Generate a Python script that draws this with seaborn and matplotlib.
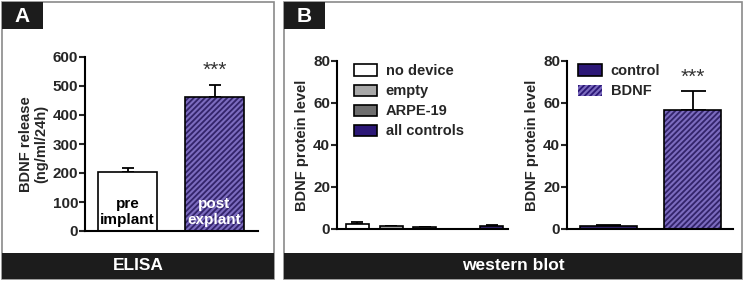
import matplotlib
matplotlib.use("Agg")
import matplotlib.pyplot as plt
from matplotlib.patches import Rectangle, Patch
import seaborn as sns
import pandas as pd

# ELISA panel
elisa_groups = ['pre implant', 'post explant']
elisa_labels = ['pre\nimplant', 'post\nexplant']
elisa_means = [204, 462]
elisa_sem = [12, 43]

# western blot, left
wb_groups = ['no device', 'empty', 'ARPE-19', 'all controls']
wb_order = ['no device', 'empty', 'ARPE-19', '', 'all controls']
wb_means = [2.5, 1.2, 0.8, 1.5]
wb_sem = [0.6, 0.3, 0.3, 0.2]

# western blot, right
bd_groups = ['control', 'BDNF']
bd_means = [1.5, 56.5]
bd_sem = [0.2, 9.0]

PURPLE = '#2c1877'
STRIPE = '#7c6cbf'
wb_colors = {'no device': 'white', 'empty': '#a8a8a8', 'ARPE-19': '#6e6e6e', 'all controls': PURPLE}

sns.set_style('white')
plt.rcParams['font.family'] = ['Liberation Sans', 'DejaVu Sans']
plt.rcParams['font.weight'] = 'bold'
plt.rcParams['hatch.linewidth'] = 1.5

W, H = 744, 281
fig = plt.figure(figsize=(W / 100, H / 100), dpi=100)


def fx(px):
    return px / W


def fy(py):
    return 1 - py / H


def make_ax(x0, x1, y0, y1):
    return fig.add_axes([fx(x0), fy(y1), fx(x1 - x0), (y1 - y0) / H])


def style(ax, ymax, step, ylabel):
    ax.set_ylim(0, ymax)
    ax.set_yticks(range(0, ymax + 1, step))
    for s in ['top', 'right']:
        ax.spines[s].set_visible(False)
    for s in ['left', 'bottom']:
        ax.spines[s].set_linewidth(1.5)
        ax.spines[s].set_color('black')
    ax.tick_params(axis='y', direction='out', length=4, width=1.5, labelsize=11, pad=1, left=True)
    ax.tick_params(axis='x', bottom=False, labelbottom=False)
    ax.set_xlabel('')
    ax.set_ylabel(ylabel, fontsize=10.5, fontweight='bold', labelpad=3, linespacing=1.1)
    for t in ax.get_yticklabels():
        t.set_fontweight('bold')


def hatch_bar(ax, p):
    p.set_hatch('//////')
    p.set_edgecolor(STRIPE)
    p.set_linewidth(0)
    ax.add_patch(Rectangle((p.get_x(), p.get_y()), p.get_width(), p.get_height(),
                           fill=False, ec='black', lw=1.2, zorder=p.get_zorder() + 0.1))


def upper_err(ax, xs, means, sems, cap):
    for x, m, s in zip(xs, means, sems):
        ax.errorbar(x, m, yerr=[[0], [s]], fmt='none', ecolor='black',
                    elinewidth=1.3, capsize=cap, capthick=1.3, zorder=1)


# frames, bottom bands, letter boxes
for (x0, x1, band, letter) in [(2, 274, 'ELISA', 'A'), (284, 742, 'western blot', 'B')]:
    fig.add_artist(Rectangle((fx(x0), fy(279)), fx(x1 - x0), (279 - 2) / H,
                             transform=fig.transFigure, fill=False, ec='#8a8a8a', lw=1.2))
    fig.add_artist(Rectangle((fx(x0), fy(279)), fx(x1 - x0), (279 - 253) / H,
                             transform=fig.transFigure, fc='#1c1c1c', ec='none'))
    fig.text(fx((x0 + x1) / 2), fy(266), band, color='white', fontsize=12.5,
             fontweight='bold', ha='center', va='center')
    fig.add_artist(Rectangle((fx(x0), fy(29)), fx(41), 27 / H,
                             transform=fig.transFigure, fc='#1c1c1c', ec='none'))
    fig.text(fx(x0 + 20), fy(16), letter, color='white', fontsize=15,
             fontweight='bold', ha='center', va='center')

# panel A
axA = make_ax(85, 258, 57, 231)
dfA = pd.DataFrame({'group': elisa_groups, 'value': elisa_means})
sns.barplot(data=dfA, x='group', y='value', hue='group', order=elisa_groups,
            palette={elisa_groups[0]: 'white', elisa_groups[1]: PURPLE},
            edgecolor='black', linewidth=1.2, width=0.68, legend=False, ax=axA, zorder=2)
axA.set_xlim(-0.49, 1.5)
for p in axA.patches:
    if p.get_height() > 300:
        hatch_bar(axA, p)
upper_err(axA, [0, 1], elisa_means, elisa_sem, 4)
style(axA, 600, 100, 'BDNF release\n(ng/ml/24h)')
axA.text(0, 66, elisa_labels[0], ha='center', va='center', fontsize=11,
         fontweight='bold', color='black', linespacing=1.15, zorder=5)
axA.text(1, 66, elisa_labels[1], ha='center', va='center', fontsize=11,
         fontweight='bold', color='white', linespacing=1.15, zorder=5)
axA.text(1, elisa_means[1] + elisa_sem[1] + 15, '***', ha='center', va='bottom',
         fontsize=15, color='#333333', fontweight='normal')

# panel B left
axB = make_ax(337, 508, 61, 229)
dfB = pd.DataFrame({'group': wb_groups, 'value': wb_means})
sns.barplot(data=dfB, x='group', y='value', hue='group', order=wb_order,
            hue_order=wb_groups, palette=wb_colors, edgecolor='black', linewidth=1.2,
            width=0.68, legend=False, ax=axB, zorder=2)
axB.set_xlim(-0.61, 4.48)
upper_err(axB, [wb_order.index(g) for g in wb_groups], wb_means, wb_sem, 4)
style(axB, 80, 20, 'BDNF protein level')
hB = [Patch(fc=wb_colors[g], ec='black', lw=1.2) for g in wb_groups]
axB.legend(hB, wb_groups, loc='upper left', bbox_to_anchor=(0.02, 1.06), frameon=False,
           handlelength=1.6, handleheight=0.8, handletextpad=0.6,
           labelspacing=0.42, prop={'weight': 'bold', 'size': 10.5})

# panel B right
axC = make_ax(567, 733, 61, 229)
dfC = pd.DataFrame({'group': bd_groups, 'value': bd_means})
sns.barplot(data=dfC, x='group', y='value', hue='group', order=bd_groups,
            palette={bd_groups[0]: PURPLE, bd_groups[1]: PURPLE}, edgecolor='black',
            linewidth=1.2, width=0.68, legend=False, ax=axC, zorder=2)
axC.set_xlim(-0.49, 1.48)
for p in axC.patches:
    if p.get_height() > 20:
        hatch_bar(axC, p)
upper_err(axC, [0, 1], bd_means, bd_sem, 9)
style(axC, 80, 20, 'BDNF protein level')
axC.text(1, bd_means[1] + bd_sem[1] + 2, '***', ha='center', va='bottom',
         fontsize=15, color='#333333', fontweight='normal')
hC = [Patch(fc=PURPLE, ec='black', lw=1.2),
      Patch(fc=PURPLE, ec=STRIPE, hatch='//////', lw=0)]
axC.legend(hC, bd_groups, loc='upper left', bbox_to_anchor=(-0.01, 1.06), frameon=False,
           handlelength=1.6, handleheight=0.8, handletextpad=0.6,
           labelspacing=0.42, prop={'weight': 'bold', 'size': 10.5})

fig.savefig('out.png', dpi=100)
